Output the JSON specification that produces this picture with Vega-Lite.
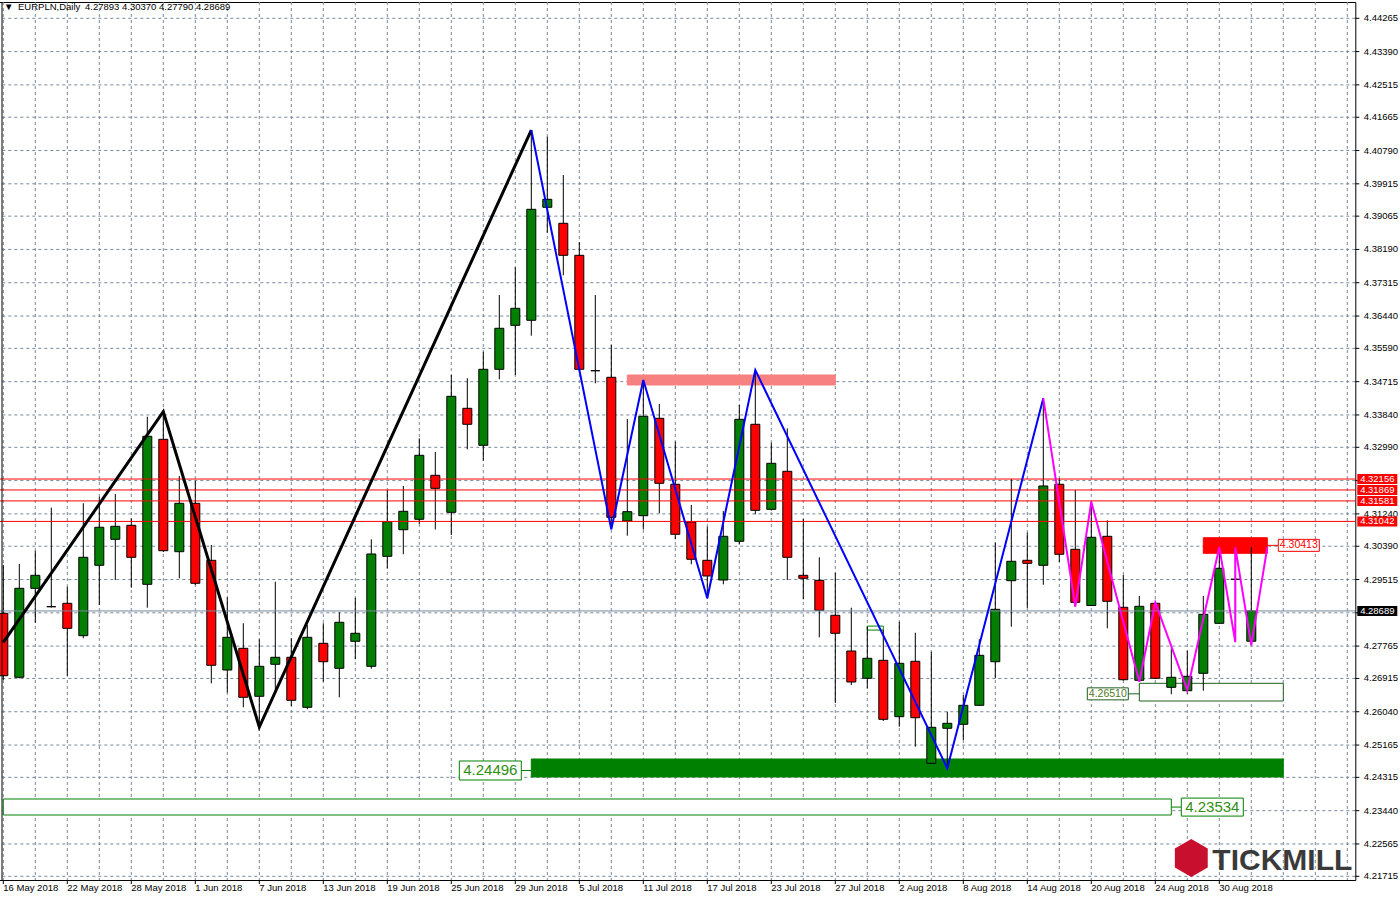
{
  "$schema": "https://vega.github.io/schema/vega-lite/v6.json",
  "width": 1360,
  "height": 878,
  "autosize": "none",
  "padding": {"left": -4.7, "top": 2, "right": 44.7, "bottom": 20},
  "background": "white",
  "config": {
    "font": "Liberation Sans",
    "view": {"stroke": "black", "strokeWidth": 1}
  },
  "datasets": {
    "candles": [
      {"date": "16 May 2018", "open": 4.28627, "high": 4.29897, "low": 4.26874, "close": 4.26987},
      {"date": "17 May 2018", "open": 4.26945, "high": 4.29923, "low": 4.26919, "close": 4.29284},
      {"date": "18 May 2018", "open": 4.29284, "high": 4.30272, "low": 4.28380, "close": 4.29626},
      {"date": "21 May 2018", "open": 4.28801, "high": 4.31403, "low": 4.28780, "close": 4.28801},
      {"date": "22 May 2018", "open": 4.28890, "high": 4.29326, "low": 4.26987, "close": 4.28233},
      {"date": "23 May 2018", "open": 4.28039, "high": 4.31518, "low": 4.27970, "close": 4.30099},
      {"date": "24 May 2018", "open": 4.29889, "high": 4.31692, "low": 4.28845, "close": 4.30888},
      {"date": "25 May 2018", "open": 4.30572, "high": 4.31763, "low": 4.29502, "close": 4.30914},
      {"date": "28 May 2018", "open": 4.30940, "high": 4.31124, "low": 4.29300, "close": 4.30099},
      {"date": "29 May 2018", "open": 4.29389, "high": 4.33794, "low": 4.28774, "close": 4.33279},
      {"date": "30 May 2018", "open": 4.33200, "high": 4.33926, "low": 4.30238, "close": 4.30272},
      {"date": "31 May 2018", "open": 4.30246, "high": 4.32236, "low": 4.29547, "close": 4.31518},
      {"date": "1 Jun 2018", "open": 4.31518, "high": 4.32112, "low": 4.29371, "close": 4.29416},
      {"date": "4 Jun 2018", "open": 4.30020, "high": 4.30422, "low": 4.26788, "close": 4.27261},
      {"date": "5 Jun 2018", "open": 4.27137, "high": 4.29048, "low": 4.26541, "close": 4.27996},
      {"date": "6 Jun 2018", "open": 4.27707, "high": 4.28364, "low": 4.26157, "close": 4.26420},
      {"date": "7 Jun 2018", "open": 4.26446, "high": 4.27944, "low": 4.25639, "close": 4.27234},
      {"date": "8 Jun 2018", "open": 4.27287, "high": 4.29458, "low": 4.26559, "close": 4.27471},
      {"date": "11 Jun 2018", "open": 4.27471, "high": 4.27970, "low": 4.26191, "close": 4.26341},
      {"date": "12 Jun 2018", "open": 4.26157, "high": 4.28320, "low": 4.26104, "close": 4.27996},
      {"date": "13 Jun 2018", "open": 4.27839, "high": 4.28364, "low": 4.26830, "close": 4.27355},
      {"date": "14 Jun 2018", "open": 4.27182, "high": 4.28654, "low": 4.26420, "close": 4.28391},
      {"date": "15 Jun 2018", "open": 4.27891, "high": 4.29037, "low": 4.27418, "close": 4.28102},
      {"date": "18 Jun 2018", "open": 4.27234, "high": 4.30572, "low": 4.27171, "close": 4.30186},
      {"date": "19 Jun 2018", "open": 4.30125, "high": 4.31868, "low": 4.29810, "close": 4.31035},
      {"date": "20 Jun 2018", "open": 4.30824, "high": 4.31973, "low": 4.30178, "close": 4.31308},
      {"date": "21 Jun 2018", "open": 4.31098, "high": 4.33227, "low": 4.30974, "close": 4.32780},
      {"date": "22 Jun 2018", "open": 4.32254, "high": 4.32866, "low": 4.30830, "close": 4.31912},
      {"date": "25 Jun 2018", "open": 4.31281, "high": 4.34890, "low": 4.30685, "close": 4.34330},
      {"date": "26 Jun 2018", "open": 4.34015, "high": 4.34804, "low": 4.32937, "close": 4.33595},
      {"date": "27 Jun 2018", "open": 4.33043, "high": 4.35503, "low": 4.32638, "close": 4.35040},
      {"date": "28 Jun 2018", "open": 4.35040, "high": 4.36993, "low": 4.34777, "close": 4.36118},
      {"date": "29 Jun 2018", "open": 4.36196, "high": 4.37721, "low": 4.34890, "close": 4.36643},
      {"date": "2 Jul 2018", "open": 4.36328, "high": 4.41329, "low": 4.35923, "close": 4.39245},
      {"date": "3 Jul 2018", "open": 4.39298, "high": 4.41153, "low": 4.38630, "close": 4.39508},
      {"date": "4 Jul 2018", "open": 4.38877, "high": 4.40147, "low": 4.37511, "close": 4.38036},
      {"date": "5 Jul 2018", "open": 4.38036, "high": 4.38378, "low": 4.34969, "close": 4.35040},
      {"date": "6 Jul 2018", "open": 4.35003, "high": 4.36993, "low": 4.34672, "close": 4.35003},
      {"date": "9 Jul 2018", "open": 4.34830, "high": 4.35679, "low": 4.30835, "close": 4.31150},
      {"date": "10 Jul 2018", "open": 4.31053, "high": 4.33734, "low": 4.30667, "close": 4.31298},
      {"date": "11 Jul 2018", "open": 4.31192, "high": 4.34759, "low": 4.30830, "close": 4.33805},
      {"date": "12 Jul 2018", "open": 4.33752, "high": 4.34128, "low": 4.31255, "close": 4.32044},
      {"date": "13 Jul 2018", "open": 4.32018, "high": 4.33137, "low": 4.30572, "close": 4.30704},
      {"date": "16 Jul 2018", "open": 4.31027, "high": 4.31474, "low": 4.29915, "close": 4.30047},
      {"date": "17 Jul 2018", "open": 4.30020, "high": 4.30903, "low": 4.29021, "close": 4.29608},
      {"date": "18 Jul 2018", "open": 4.29502, "high": 4.31316, "low": 4.29389, "close": 4.30651},
      {"date": "19 Jul 2018", "open": 4.30520, "high": 4.34102, "low": 4.30449, "close": 4.33726},
      {"date": "20 Jul 2018", "open": 4.33595, "high": 4.35022, "low": 4.31229, "close": 4.31334},
      {"date": "23 Jul 2018", "open": 4.31360, "high": 4.33111, "low": 4.31329, "close": 4.32570},
      {"date": "24 Jul 2018", "open": 4.32359, "high": 4.33489, "low": 4.29502, "close": 4.30099},
      {"date": "25 Jul 2018", "open": 4.29626, "high": 4.31106, "low": 4.28995, "close": 4.29547},
      {"date": "26 Jul 2018", "open": 4.29494, "high": 4.30099, "low": 4.27996, "close": 4.28706},
      {"date": "27 Jul 2018", "open": 4.28575, "high": 4.29694, "low": 4.26270, "close": 4.28102},
      {"date": "30 Jul 2018", "open": 4.27636, "high": 4.28774, "low": 4.26743, "close": 4.26822},
      {"date": "31 Jul 2018", "open": 4.26919, "high": 4.28275, "low": 4.26656, "close": 4.27445},
      {"date": "1 Aug 2018", "open": 4.27392, "high": 4.28188, "low": 4.25797, "close": 4.25841},
      {"date": "2 Aug 2018", "open": 4.25910, "high": 4.28406, "low": 4.25647, "close": 4.27313},
      {"date": "3 Aug 2018", "open": 4.27366, "high": 4.28117, "low": 4.25121, "close": 4.25883},
      {"date": "6 Aug 2018", "open": 4.24685, "high": 4.27618, "low": 4.24667, "close": 4.25631},
      {"date": "7 Aug 2018", "open": 4.25605, "high": 4.26041, "low": 4.24554, "close": 4.25736},
      {"date": "8 Aug 2018", "open": 4.25710, "high": 4.26480, "low": 4.25297, "close": 4.26209},
      {"date": "9 Aug 2018", "open": 4.26209, "high": 4.27944, "low": 4.26191, "close": 4.27523},
      {"date": "10 Aug 2018", "open": 4.27355, "high": 4.30483, "low": 4.26919, "close": 4.28732},
      {"date": "13 Aug 2018", "open": 4.29484, "high": 4.32157, "low": 4.28275, "close": 4.29994},
      {"date": "14 Aug 2018", "open": 4.30020, "high": 4.30746, "low": 4.28767, "close": 4.29941},
      {"date": "15 Aug 2018", "open": 4.29889, "high": 4.34278, "low": 4.29379, "close": 4.31973},
      {"date": "16 Aug 2018", "open": 4.32018, "high": 4.32175, "low": 4.29976, "close": 4.30178},
      {"date": "17 Aug 2018", "open": 4.30309, "high": 4.31868, "low": 4.28801, "close": 4.28916},
      {"date": "20 Aug 2018", "open": 4.28832, "high": 4.31560, "low": 4.28819, "close": 4.30625},
      {"date": "21 Aug 2018", "open": 4.30651, "high": 4.31071, "low": 4.28233, "close": 4.28943},
      {"date": "22 Aug 2018", "open": 4.28785, "high": 4.29634, "low": 4.26861, "close": 4.26882},
      {"date": "23 Aug 2018", "open": 4.26866, "high": 4.29082, "low": 4.26830, "close": 4.28811},
      {"date": "24 Aug 2018", "open": 4.28890, "high": 4.28916, "low": 4.26900, "close": 4.26919},
      {"date": "27 Aug 2018", "open": 4.26682, "high": 4.27707, "low": 4.26498, "close": 4.26945},
      {"date": "28 Aug 2018", "open": 4.26593, "high": 4.27644, "low": 4.26498, "close": 4.26971},
      {"date": "29 Aug 2018", "open": 4.27050, "high": 4.29082, "low": 4.26593, "close": 4.28601},
      {"date": "30 Aug 2018", "open": 4.28364, "high": 4.30362, "low": 4.28359, "close": 4.29810},
      {"date": "31 Aug 2018", "open": 4.29521, "high": 4.30362, "low": 4.27870, "close": 4.29521},
      {"date": "3 Sep 2018", "open": 4.27893, "high": 4.30370, "low": 4.27790, "close": 4.28689}
    ],
    "zones": [
      {"date": "16 May 2018", "end": "27 Aug 2018", "top": 4.23747, "bottom": 4.23326, "kind": "support2"},
      {"date": "2 Jul 2018", "end": "5 Sep 2018", "top": 4.24798, "bottom": 4.24325, "kind": "support1"},
      {"date": "10 Jul 2018", "end": "27 Jul 2018", "top": 4.34890, "bottom": 4.34627, "kind": "resist1"},
      {"date": "29 Aug 2018", "end": "4 Sep 2018", "top": 4.30614, "bottom": 4.30204, "kind": "resist2"},
      {"date": "23 Aug 2018", "end": "5 Sep 2018", "top": 4.26787, "bottom": 4.26322, "kind": "range"},
      {"date": "31 Jul 2018", "end": "1 Aug 2018", "top": 4.28291, "bottom": 4.28186, "kind": "mini"}
    ],
    "levels": [
      {"price": 4.32156, "kind": "line"},
      {"price": 4.31869, "kind": "line"},
      {"price": 4.31581, "kind": "line"},
      {"price": 4.31042, "kind": "line"},
      {"price": 4.28689, "kind": "bid"}
    ],
    "zigzag": [
      {"wave": "A", "seq": 1, "date": "16 May 2018", "price": 4.27862},
      {"wave": "A", "seq": 2, "date": "30 May 2018", "price": 4.33926},
      {"wave": "A", "seq": 3, "date": "7 Jun 2018", "price": 4.25639},
      {"wave": "A", "seq": 4, "date": "2 Jul 2018", "price": 4.41329},
      {"wave": "B", "seq": 1, "date": "2 Jul 2018", "price": 4.41329},
      {"wave": "B", "seq": 2, "date": "9 Jul 2018", "price": 4.30835},
      {"wave": "B", "seq": 3, "date": "11 Jul 2018", "price": 4.34759},
      {"wave": "B", "seq": 4, "date": "17 Jul 2018", "price": 4.29021},
      {"wave": "B", "seq": 5, "date": "20 Jul 2018", "price": 4.35022},
      {"wave": "B", "seq": 6, "date": "7 Aug 2018", "price": 4.24554},
      {"wave": "B", "seq": 7, "date": "15 Aug 2018", "price": 4.34278},
      {"wave": "C", "seq": 1, "date": "15 Aug 2018", "price": 4.34278},
      {"wave": "C", "seq": 2, "date": "17 Aug 2018", "price": 4.28801},
      {"wave": "C", "seq": 3, "date": "20 Aug 2018", "price": 4.31560},
      {"wave": "C", "seq": 4, "date": "23 Aug 2018", "price": 4.26830},
      {"wave": "C", "seq": 5, "date": "24 Aug 2018", "price": 4.28916},
      {"wave": "C", "seq": 6, "date": "28 Aug 2018", "price": 4.26611},
      {"wave": "C", "seq": 7, "date": "30 Aug 2018", "price": 4.30362},
      {"wave": "C", "seq": 8, "date": "31 Aug 2018", "price": 4.27870},
      {"wave": "C", "seq": 9, "date": "31 Aug 2018", "price": 4.30362},
      {"wave": "C", "seq": 10, "date": "3 Sep 2018", "price": 4.27790},
      {"wave": "C", "seq": 11, "date": "4 Sep 2018", "price": 4.30362}
    ],
    "tags": [
      {"tag": "t1", "date": "4 Sep 2018", "price": 4.30413},
      {"tag": "t2", "date": "23 Aug 2018", "price": 4.26510},
      {"tag": "t3", "date": "2 Jul 2018", "price": 4.24496},
      {"tag": "t4", "date": "27 Aug 2018", "price": 4.23534}
    ],
    "yticks": [
      {"tick": 4.44265}, {"tick": 4.43390}, {"tick": 4.42515}, {"tick": 4.41665}, {"tick": 4.40790}, {"tick": 4.39915}, {"tick": 4.39065},
      {"tick": 4.38190}, {"tick": 4.37315}, {"tick": 4.36440}, {"tick": 4.35590}, {"tick": 4.34715}, {"tick": 4.33840}, {"tick": 4.32990},
      {"tick": 4.32115}, {"tick": 4.31240}, {"tick": 4.30390}, {"tick": 4.29515}, {"tick": 4.28640}, {"tick": 4.27765}, {"tick": 4.26915},
      {"tick": 4.26040}, {"tick": 4.25165}, {"tick": 4.24315}, {"tick": 4.23440}, {"tick": 4.22565}, {"tick": 4.21715}
    ],
    "xticks": [
      {"date": "16 May 2018", "labeled": true}, {"date": "18 May 2018", "labeled": false}, {"date": "22 May 2018", "labeled": true}, {"date": "24 May 2018", "labeled": false},
      {"date": "28 May 2018", "labeled": true}, {"date": "30 May 2018", "labeled": false}, {"date": "1 Jun 2018", "labeled": true}, {"date": "5 Jun 2018", "labeled": false},
      {"date": "7 Jun 2018", "labeled": true}, {"date": "11 Jun 2018", "labeled": false}, {"date": "13 Jun 2018", "labeled": true}, {"date": "15 Jun 2018", "labeled": false},
      {"date": "19 Jun 2018", "labeled": true}, {"date": "21 Jun 2018", "labeled": false}, {"date": "25 Jun 2018", "labeled": true}, {"date": "27 Jun 2018", "labeled": false},
      {"date": "29 Jun 2018", "labeled": true}, {"date": "3 Jul 2018", "labeled": false}, {"date": "5 Jul 2018", "labeled": true}, {"date": "9 Jul 2018", "labeled": false},
      {"date": "11 Jul 2018", "labeled": true}, {"date": "13 Jul 2018", "labeled": false}, {"date": "17 Jul 2018", "labeled": true}, {"date": "19 Jul 2018", "labeled": false},
      {"date": "23 Jul 2018", "labeled": true}, {"date": "25 Jul 2018", "labeled": false}, {"date": "27 Jul 2018", "labeled": true}, {"date": "31 Jul 2018", "labeled": false},
      {"date": "2 Aug 2018", "labeled": true}, {"date": "6 Aug 2018", "labeled": false}, {"date": "8 Aug 2018", "labeled": true}, {"date": "10 Aug 2018", "labeled": false},
      {"date": "14 Aug 2018", "labeled": true}, {"date": "16 Aug 2018", "labeled": false}, {"date": "20 Aug 2018", "labeled": true}, {"date": "22 Aug 2018", "labeled": false},
      {"date": "24 Aug 2018", "labeled": true}, {"date": "28 Aug 2018", "labeled": false}, {"date": "30 Aug 2018", "labeled": true}, {"date": "3 Sep 2018", "labeled": false},
      {"date": "5 Sep 2018", "labeled": false}, {"date": "7 Sep 2018", "labeled": false}, {"date": "11 Sep 2018", "labeled": false}
    ],
    "header": [
      {"symbol": "EURPLN,Daily", "quote": "4.27893 4.30370 4.27790 4.28689", "brand": "TICKMILL", "first": "16 May 2018"}
    ]
  },
  "layer": [
    {
      "data": {"name": "xticks"},
      "mark": {"type": "rule", "color": "#778899", "strokeWidth": 1, "strokeDash": [3, 3]},
      "encoding": {
        "x": {
          "field": "date", "type": "ordinal", "bandPosition": 0.5, "axis": null,
          "scale": {
            "type": "band",
            "domain": ["16 May 2018","17 May 2018","18 May 2018","21 May 2018","22 May 2018","23 May 2018","24 May 2018","25 May 2018","28 May 2018","29 May 2018","30 May 2018","31 May 2018","1 Jun 2018","4 Jun 2018","5 Jun 2018","6 Jun 2018","7 Jun 2018","8 Jun 2018","11 Jun 2018","12 Jun 2018","13 Jun 2018","14 Jun 2018","15 Jun 2018","18 Jun 2018","19 Jun 2018","20 Jun 2018","21 Jun 2018","22 Jun 2018","25 Jun 2018","26 Jun 2018","27 Jun 2018","28 Jun 2018","29 Jun 2018","2 Jul 2018","3 Jul 2018","4 Jul 2018","5 Jul 2018","6 Jul 2018","9 Jul 2018","10 Jul 2018","11 Jul 2018","12 Jul 2018","13 Jul 2018","16 Jul 2018","17 Jul 2018","18 Jul 2018","19 Jul 2018","20 Jul 2018","23 Jul 2018","24 Jul 2018","25 Jul 2018","26 Jul 2018","27 Jul 2018","30 Jul 2018","31 Jul 2018","1 Aug 2018","2 Aug 2018","3 Aug 2018","6 Aug 2018","7 Aug 2018","8 Aug 2018","9 Aug 2018","10 Aug 2018","13 Aug 2018","14 Aug 2018","15 Aug 2018","16 Aug 2018","17 Aug 2018","20 Aug 2018","21 Aug 2018","22 Aug 2018","23 Aug 2018","24 Aug 2018","27 Aug 2018","28 Aug 2018","29 Aug 2018","30 Aug 2018","31 Aug 2018","3 Sep 2018","4 Sep 2018","5 Sep 2018","6 Sep 2018","7 Sep 2018","10 Sep 2018","11 Sep 2018"],
            "paddingInner": 0,
            "paddingOuter": 0
          }
        }
      }
    },
    {
      "data": {"name": "yticks"},
      "mark": {"type": "rule", "color": "#778899", "strokeWidth": 1, "strokeDash": [3, 3]},
      "encoding": {
        "y": {"field": "tick", "type": "quantitative", "axis": null, "scale": {"domain": [4.216178, 4.446934], "zero": false, "nice": false}}
      }
    },
    {
      "data": {"name": "zones"},
      "mark": {"type": "rect", "clip": true, "strokeWidth": 1},
      "encoding": {
        "x": {"field": "date", "type": "ordinal", "bandPosition": 0.5, "axis": null},
        "x2": {"field": "end", "bandPosition": 0.5},
        "y": {"field": "top", "type": "quantitative", "axis": null},
        "y2": {"field": "bottom"},
        "fill": {"field": "kind", "type": "nominal", "legend": null,
          "scale": {"domain": ["support2","support1","resist1","resist2","range","mini"], "range": ["#FFFFFF","#008000","#F78181","#FF0000","#FFFFFF","#FFFFFF"]}},
        "stroke": {"field": "kind", "type": "nominal", "legend": null,
          "scale": {"domain": ["support2","support1","resist1","resist2","range","mini"], "range": ["#008000","#008000","#F78181","#FF0000","#1E5E1E","#008000"]}}
      }
    },
    {
      "data": {"name": "candles"},
      "mark": {"type": "rule", "clip": true, "color": "black", "strokeWidth": 1},
      "encoding": {
        "x": {"field": "date", "type": "ordinal", "bandPosition": 0.5, "axis": null},
        "y": {"field": "low", "type": "quantitative", "axis": null},
        "y2": {"field": "high"}
      }
    },
    {
      "data": {"name": "candles"},
      "mark": {"type": "bar", "clip": true, "width": 9, "stroke": "black", "strokeWidth": 1},
      "encoding": {
        "x": {"field": "date", "type": "ordinal", "axis": null},
        "y": {"field": "open", "type": "quantitative", "axis": null},
        "y2": {"field": "close"},
        "fill": {"condition": {"test": "datum.close > datum.open", "value": "#008000"}, "value": "#FF0000"}
      }
    },
    {
      "data": {"name": "levels"},
      "mark": {"type": "rule", "strokeWidth": 1},
      "encoding": {
        "y": {"field": "price", "type": "quantitative", "axis": null},
        "stroke": {"condition": {"test": "datum.kind == 'bid'", "value": "#778899"}, "value": "#FF0000"}
      }
    },
    {
      "data": {"name": "zigzag"},
      "mark": {"type": "line", "clip": true},
      "encoding": {
        "x": {"field": "date", "type": "ordinal", "bandPosition": 0.5, "axis": null},
        "y": {"field": "price", "type": "quantitative", "axis": null},
        "detail": {"field": "wave", "type": "nominal"},
        "order": {"field": "seq", "type": "quantitative"},
        "stroke": {"condition": [{"test": "datum.wave == 'A'", "value": "#000000"}, {"test": "datum.wave == 'B'", "value": "#0000FF"}], "value": "#FF00FF"},
        "strokeWidth": {"condition": {"test": "datum.wave == 'A'", "value": 3}, "value": 2}
      }
    },
    {
      "data": {"name": "tags"},
      "transform": [{"filter": "datum.tag == 't1'"}],
      "mark": {"type": "rule", "x2Offset": 11, "color": "#FF0000"},
      "encoding": {"x": {"field": "date", "type": "ordinal", "bandPosition": 0.5, "axis": null}, "x2": {"field": "date", "bandPosition": 0.5}, "y": {"field": "price", "type": "quantitative", "axis": null}}
    },
    {
      "data": {"name": "tags"},
      "transform": [{"filter": "datum.tag == 't1'"}],
      "mark": {"type": "rect", "xOffset": 11, "x2Offset": 52, "yOffset": -6, "y2Offset": 6, "fill": "white", "stroke": "#FF0000", "strokeWidth": 1},
      "encoding": {"x": {"field": "date", "type": "ordinal", "bandPosition": 0.5, "axis": null}, "x2": {"field": "date", "bandPosition": 0.5}, "y": {"field": "price", "type": "quantitative", "axis": null}, "y2": {"field": "price"}}
    },
    {
      "data": {"name": "tags"},
      "transform": [{"filter": "datum.tag == 't1'"}],
      "mark": {"type": "text", "dx": 31.5, "align": "center", "baseline": "middle", "fontSize": 10.5, "color": "#FF0000"},
      "encoding": {"x": {"field": "date", "type": "ordinal", "bandPosition": 0.5, "axis": null}, "y": {"field": "price", "type": "quantitative", "axis": null}, "text": {"field": "price", "type": "quantitative", "format": ".5f"}}
    },
    {
      "data": {"name": "tags"},
      "transform": [{"filter": "datum.tag == 't2'"}],
      "mark": {"type": "rule", "xOffset": -11, "color": "#1E5E1E"},
      "encoding": {"x": {"field": "date", "type": "ordinal", "bandPosition": 0.5, "axis": null}, "x2": {"field": "date", "bandPosition": 0.5}, "y": {"field": "price", "type": "quantitative", "axis": null}}
    },
    {
      "data": {"name": "tags"},
      "transform": [{"filter": "datum.tag == 't2'"}],
      "mark": {"type": "rect", "xOffset": -52, "x2Offset": -11, "yOffset": -6, "y2Offset": 6, "fill": "white", "stroke": "#1E5E1E", "strokeWidth": 1},
      "encoding": {"x": {"field": "date", "type": "ordinal", "bandPosition": 0.5, "axis": null}, "x2": {"field": "date", "bandPosition": 0.5}, "y": {"field": "price", "type": "quantitative", "axis": null}, "y2": {"field": "price"}}
    },
    {
      "data": {"name": "tags"},
      "transform": [{"filter": "datum.tag == 't2'"}],
      "mark": {"type": "text", "dx": -31.5, "align": "center", "baseline": "middle", "fontSize": 10.5, "color": "#4F7A1C"},
      "encoding": {"x": {"field": "date", "type": "ordinal", "bandPosition": 0.5, "axis": null}, "y": {"field": "price", "type": "quantitative", "axis": null}, "text": {"field": "price", "type": "quantitative", "format": ".5f"}}
    },
    {
      "data": {"name": "tags"},
      "transform": [{"filter": "datum.tag == 't3'"}],
      "mark": {"type": "rule", "xOffset": -10, "color": "#008000"},
      "encoding": {"x": {"field": "date", "type": "ordinal", "bandPosition": 0.5, "axis": null}, "x2": {"field": "date", "bandPosition": 0.5}, "y": {"field": "price", "type": "quantitative", "axis": null}}
    },
    {
      "data": {"name": "tags"},
      "transform": [{"filter": "datum.tag == 't3'"}],
      "mark": {"type": "rect", "xOffset": -72, "x2Offset": -10, "yOffset": -9.5, "y2Offset": 9.5, "fill": "white", "stroke": "#008000", "strokeWidth": 1},
      "encoding": {"x": {"field": "date", "type": "ordinal", "bandPosition": 0.5, "axis": null}, "x2": {"field": "date", "bandPosition": 0.5}, "y": {"field": "price", "type": "quantitative", "axis": null}, "y2": {"field": "price"}}
    },
    {
      "data": {"name": "tags"},
      "transform": [{"filter": "datum.tag == 't3'"}],
      "mark": {"type": "text", "dx": -41, "align": "center", "baseline": "middle", "fontSize": 15, "color": "#2E9010"},
      "encoding": {"x": {"field": "date", "type": "ordinal", "bandPosition": 0.5, "axis": null}, "y": {"field": "price", "type": "quantitative", "axis": null}, "text": {"field": "price", "type": "quantitative", "format": ".5f"}}
    },
    {
      "data": {"name": "tags"},
      "transform": [{"filter": "datum.tag == 't4'"}],
      "mark": {"type": "rule", "x2Offset": 10, "color": "#008000"},
      "encoding": {"x": {"field": "date", "type": "ordinal", "bandPosition": 0.5, "axis": null}, "x2": {"field": "date", "bandPosition": 0.5}, "y": {"field": "price", "type": "quantitative", "axis": null}}
    },
    {
      "data": {"name": "tags"},
      "transform": [{"filter": "datum.tag == 't4'"}],
      "mark": {"type": "rect", "xOffset": 10, "x2Offset": 72, "yOffset": -9, "y2Offset": 9, "fill": "white", "stroke": "#008000", "strokeWidth": 1},
      "encoding": {"x": {"field": "date", "type": "ordinal", "bandPosition": 0.5, "axis": null}, "x2": {"field": "date", "bandPosition": 0.5}, "y": {"field": "price", "type": "quantitative", "axis": null}, "y2": {"field": "price"}}
    },
    {
      "data": {"name": "tags"},
      "transform": [{"filter": "datum.tag == 't4'"}],
      "mark": {"type": "text", "dx": 41, "align": "center", "baseline": "middle", "fontSize": 15, "color": "#2E9010"},
      "encoding": {"x": {"field": "date", "type": "ordinal", "bandPosition": 0.5, "axis": null}, "y": {"field": "price", "type": "quantitative", "axis": null}, "text": {"field": "price", "type": "quantitative", "format": ".5f"}}
    },
    {
      "data": {"name": "yticks"},
      "mark": {"type": "rule", "color": "black", "strokeWidth": 1, "x2Offset": 4},
      "encoding": {
        "x": {"value": "width"}, "x2": {"value": "width"},
        "y": {"field": "tick", "type": "quantitative", "axis": null}
      }
    },
    {
      "data": {"name": "yticks"},
      "transform": [{"filter": "datum.tick != 4.32115 && datum.tick != 4.2864"}],
      "mark": {"type": "text", "align": "left", "baseline": "middle", "fontSize": 9.5, "color": "black", "dx": 8.5},
      "encoding": {
        "x": {"value": "width"},
        "y": {"field": "tick", "type": "quantitative", "axis": null},
        "text": {"field": "tick", "type": "quantitative", "format": ".5f"}
      }
    },
    {
      "data": {"name": "xticks"},
      "transform": [{"filter": "datum.labeled"}],
      "mark": {"type": "rule", "color": "black", "strokeWidth": 1, "y2Offset": 4},
      "encoding": {
        "x": {"field": "date", "type": "ordinal", "bandPosition": 0.5, "axis": null},
        "y": {"value": "height"}, "y2": {"value": "height"}
      }
    },
    {
      "data": {"name": "xticks"},
      "transform": [{"filter": "datum.labeled"}],
      "mark": {"type": "text", "align": "left", "baseline": "top", "fontSize": 9.5, "color": "black", "dx": 0, "dy": 3},
      "encoding": {
        "x": {"field": "date", "type": "ordinal", "bandPosition": 0.5, "axis": null},
        "y": {"value": "height"},
        "text": {"field": "date"}
      }
    },
    {
      "data": {"name": "levels"},
      "mark": {"type": "rect", "xOffset": 2, "x2Offset": 42, "yOffset": -5, "y2Offset": 5},
      "encoding": {
        "x": {"value": "width"}, "x2": {"value": "width"},
        "y": {"field": "price", "type": "quantitative", "axis": null}, "y2": {"field": "price"},
        "fill": {"condition": {"test": "datum.kind == 'bid'", "value": "#000000"}, "value": "#FF0000"}
      }
    },
    {
      "data": {"name": "levels"},
      "mark": {"type": "text", "dx": 22, "align": "center", "baseline": "middle", "fontSize": 9.5, "color": "white"},
      "encoding": {
        "x": {"value": "width"},
        "y": {"field": "price", "type": "quantitative", "axis": null},
        "text": {"field": "price", "type": "quantitative", "format": ".5f"}
      }
    },
    {
      "data": {"name": "header"},
      "mark": {"type": "rule", "color": "black", "strokeWidth": 1, "xOffset": -1.3},
      "encoding": {"x": {"field": "first", "type": "ordinal", "bandPosition": 0.5, "axis": null}}
    },
    {
      "data": {"name": "header"},
      "mark": {"type": "text", "align": "left", "baseline": "alphabetic", "fontSize": 9.5, "color": "black", "dx": 8.7, "dy": 8},
      "encoding": {"x": {"value": 0}, "y": {"value": 0}, "text": {"value": "▼"}}
    },
    {
      "data": {"name": "header"},
      "mark": {"type": "text", "align": "left", "baseline": "alphabetic", "fontSize": 9.5, "color": "black", "dx": 22.7, "dy": 8},
      "encoding": {"x": {"value": 0}, "y": {"value": 0}, "text": {"field": "symbol"}}
    },
    {
      "data": {"name": "header"},
      "mark": {"type": "text", "align": "left", "baseline": "alphabetic", "fontSize": 9.5, "color": "black", "dx": 89.7, "dy": 8},
      "encoding": {"x": {"value": 0}, "y": {"value": 0}, "text": {"field": "quote"}}
    },
    {
      "data": {"name": "header"},
      "mark": {"type": "point", "filled": true, "shape": "M0,-1L0.866,-0.5L0.866,0.5L0,1L-0.866,0.5L-0.866,-0.5Z", "size": 1444, "color": "#C8102E", "opacity": 1, "xOffset": -164, "yOffset": -22},
      "encoding": {"x": {"value": "width"}, "y": {"value": "height"}}
    },
    {
      "data": {"name": "header"},
      "mark": {"type": "text", "align": "right", "baseline": "alphabetic", "fontSize": 30, "fontWeight": "bold", "color": "#3A3A3A", "dx": -3, "dy": -10},
      "encoding": {"x": {"value": "width"}, "y": {"value": "height"}, "text": {"field": "brand"}}
    }
  ]
}
